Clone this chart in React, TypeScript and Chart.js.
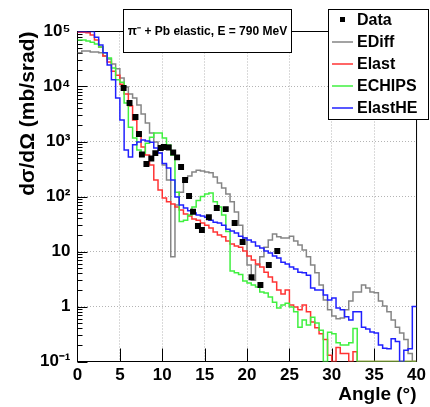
import { useEffect, useRef } from 'react';
import { Chart, registerables } from 'chart.js';

Chart.register(...registerables);

// ---- data (0.5 degree bins from 0 to 40 degrees) ----
const BIN_WIDTH = 0.5;

const EDIFF = [
  41000, 44000, 44000, 42500, 42500, 41000, 36000, 31600, 25700, 21000,
  14300, 9800, 7300, 6200, 4600, 3160, 2170, 1430, 980, 615,
  375, 200, 8, 70, 120, 210, 236, 280, 300, 290,
  280, 270, 226, 176, 143, 111, 80, 52, 30, 17.6,
  5.7, 3.0, 5.7, 8, 12, 16.2, 20.8, 18.5, 17.6, 17.6,
  19, 15.5, 13.1, 10.6, 8, 5.7, 4.1, 2.46, 1.31, 0.87,
  0.67, 0.6, 0.62, 0.87, 1.26, 1.84, 1.84, 2.46, 2.17, 1.84,
  1.77, 1.26, 1.02, 0.8, 0.57, 0.42, 0.33, 0.25, 0.14, 0.1,
];

const ELAST = [
  97000, 97000, 95000, 86000, 70000, 52000, 36000, 27900, 19000, 16000,
  11000, 7300, 4400, 2460, 1480, 795, 570, 375, 200, 131,
  94, 80, 73, 64.5, 57, 48, 44, 39, 37, 33,
  30, 26.7, 22.6, 20, 18.5, 15.5, 13.7, 12.6, 12, 10.2,
  8.3, 7, 5.9, 5.2, 4.2, 3.44, 2.8, 2.0, 1.69, 2.0,
  1.06, 0.98, 0.87, 1.06, 0.8, 0.52, 0.41, 0.32, 0.25, 0.13,
  0.1, 0.18, 0.14, 0.14, 0.1, 0.15, 0.1, 0.1, 0.1, 0.1,
  0.1, 0.1, 0.1, 0.1, 0.1, 0.1, 0.1, 0.1, 0.1, 0.1,
];

const ECHIPS = [
  70000, 70000, 67000, 64000, 59000, 52000, 41000, 33000, 21700, 13200,
  12000, 5000, 1820, 1160, 700, 620, 930, 1200, 1430, 1430,
  1160, 860, 570, 120, 35, 37, 46, 64.5, 85, 100,
  111, 116, 80, 64.5, 46, 23, 4.4, 4.1, 3.8, 2.9,
  2.67, 2.46, 2.26, 1.84, 1.76, 1.49, 1.2, 0.94, 1.06, 1.15,
  0.98, 0.8, 0.42, 0.57, 0.46, 0.64, 0.5, 0.37, 0.1, 0.34,
  0.32, 0.22, 0.2, 0.2, 0.22, 0.4, 0.1, 0.1, 0.1, 0.1,
  0.1, 0.1, 0.1, 0.1, 0.1, 0.1, 0.1, 0.1, 0.1, 0.1,
];

const ELASTHE = [
  100000, 100000, 100000, 100000, 79000, 57000, 41000, 24500, 13200, 6200,
  2450, 700, 525, 870, 980, 1070, 1020, 970, 760, 615,
  400, 330, 200, 98, 70, 62, 55, 50, 46, 44,
  42, 37, 34, 33, 30, 25.5, 23.6, 21.7, 19, 17.6,
  16.2, 14.9, 12.6, 11.6, 10.2, 9.4, 8.3, 7.6, 6.4, 5.9,
  5.2, 4.8, 4.2, 4.1, 3.7, 2.17, 2.0, 2.0, 1.62, 1.31,
  1.43, 0.94, 0.87, 0.65, 0.57, 0.8, 0.8, 0.42, 0.39, 0.345,
  0.33, 0.2, 0.175, 0.17, 0.26, 0.23, 0.1, 0.16, 0.17, 1.0,
];

const DATA_ANGLE = [
  5.44, 6.14, 6.84, 7.25, 7.6, 8.13, 8.71, 9.18, 9.82, 10.18,
  10.76, 11.29, 11.75, 12.22, 12.69, 13.16, 13.63, 14.21, 14.68, 15.5,
  16.43, 17.49, 18.54, 19.48, 20.53, 21.58, 22.57, 23.57,
];
const DATA_VALUE = [
  9400, 5000, 2790, 1370, 580, 390, 490, 615, 760, 795,
  780, 630, 515, 345, 200, 102, 53, 29, 24.6, 42,
  62, 59, 33, 14.9, 3.4, 2.46, 5.7, 10.2,
];

const Y_TICK_VALUES = [0.1, 1, 10, 100, 1000, 10000, 100000];
const Y_TICK_LABELS = ['10⁻¹', '1', '10', '10²', '10³', '10⁴', '10⁵'];
const X_MIN = 0;
const X_MAX = 40;
const X_TICK_STEP = 5;

const TITLE = 'π⁻ + Pb elastic, E = 790 MeV';
const Y_TITLE = 'dσ/dΩ (mb/srad)';
const X_TITLE = 'Angle (°)';

const FONT = "'Liberation Sans', Arial, Helvetica, sans-serif";

function histPoints(vals: number[]) {
  const pts = vals.map((v, i) => ({ x: i * BIN_WIDTH, y: v }));
  pts.push({ x: vals.length * BIN_WIDTH, y: vals[vals.length - 1] });
  return pts;
}

const rootDecor = {
  id: 'rootDecor',
  beforeDatasetsDraw(chart: any) {
    const { ctx, chartArea: a, scales } = chart;
    const ys = scales.y;
    const xs = scales.x;
    ctx.save();
    ctx.strokeStyle = '#000';
    ctx.lineWidth = 1;
    ctx.strokeRect(a.left, a.top, a.right - a.left, a.bottom - a.top);
    ctx.beginPath();
    for (let d = -1; d <= 4; d++) {
      for (let m = 1; m <= 9; m++) {
        const v = m * Math.pow(10, d);
        const py = Math.round(ys.getPixelForValue(v)) + 0.5;
        const len = m === 1 ? 10 : 5;
        ctx.moveTo(a.left, py);
        ctx.lineTo(a.left + len, py);
      }
    }
    for (let v = X_MIN + X_TICK_STEP; v < X_MAX; v += X_TICK_STEP) {
      const px = Math.round(xs.getPixelForValue(v)) + 0.5;
      ctx.moveTo(px, a.bottom);
      ctx.lineTo(px, a.bottom - 13);
    }
    ctx.stroke();
    ctx.restore();
  },
  afterDraw(chart: any) {
    const { ctx } = chart;
    ctx.save();
    ctx.fillStyle = '#fff';
    ctx.strokeStyle = '#000';
    ctx.lineWidth = 1;
    ctx.fillRect(123.5, 9.5, 168, 43);
    ctx.strokeRect(123.5, 9.5, 168, 43);
    ctx.fillStyle = '#000';
    ctx.font = `bold 12px ${FONT}`;
    ctx.textAlign = 'center';
    ctx.textBaseline = 'middle';
    ctx.fillText(TITLE, 207.5, 31.5);

    ctx.fillStyle = '#fff';
    ctx.fillRect(328.5, 9.5, 100, 110);
    ctx.strokeRect(328.5, 9.5, 100, 110);
    ctx.font = `bold 16px ${FONT}`;
    ctx.textAlign = 'left';
    ctx.textBaseline = 'middle';
    chart.data.datasets.forEach((ds: any, i: number) => {
      const cy = 19.5 + i * 22;
      if (ds.showLine === false) {
        ctx.fillStyle = ds.backgroundColor;
        ctx.fillRect(340, cy - 2.5, 5, 5);
      } else {
        ctx.strokeStyle = ds.borderColor;
        ctx.lineWidth = 1.5;
        ctx.beginPath();
        ctx.moveTo(332, cy + 0.5);
        ctx.lineTo(353, cy + 0.5);
        ctx.stroke();
      }
      ctx.fillStyle = '#000';
      ctx.fillText(ds.label, 357, cy + 1);
    });
    ctx.restore();
  },
};

export default function App() {
  const ref = useRef<HTMLCanvasElement | null>(null);

  useEffect(() => {
    if (!ref.current) return;
    const lineDs = (label: string, vals: number[], color: string, order: number) => ({
      type: 'line' as const,
      label,
      data: histPoints(vals),
      borderColor: color,
      backgroundColor: color,
      borderWidth: 1.5,
      pointRadius: 0,
      stepped: 'before' as const,
      fill: false,
      order,
    });
    const chart = new Chart(ref.current, {
      type: 'line',
      data: {
        datasets: [
          {
            type: 'scatter' as any,
            label: 'Data',
            data: DATA_ANGLE.map((a, i) => ({ x: a, y: DATA_VALUE[i] })),
            showLine: false,
            pointStyle: 'rect',
            pointRadius: 4.2,
            pointBorderWidth: 0,
            backgroundColor: '#000',
            borderColor: '#000',
            order: 0,
          } as any,
          lineDs('EDiff', EDIFF, '#858585', 4),
          lineDs('Elast', ELAST, '#ff3333', 3),
          lineDs('ECHIPS', ECHIPS, '#40f040', 2),
          lineDs('ElastHE', ELASTHE, '#2020ff', 1),
        ],
      },
      options: {
        responsive: false,
        animation: false,
        devicePixelRatio: 1,
        layout: { padding: { top: 31.5, right: 10.5, left: 0, bottom: 0 } },
        plugins: {
          legend: { display: false },
          tooltip: { enabled: false },
          title: { display: false },
        },
        scales: {
          x: {
            type: 'linear',
            min: X_MIN,
            max: X_MAX,
            afterFit: (s: any) => {
              s.height = 45.5;
            },
            ticks: {
              stepSize: X_TICK_STEP,
              padding: 4,
              color: '#000',
              font: { family: FONT, size: 17, weight: 'bold' },
              maxRotation: 0,
            },
            grid: { color: '#b4b4b4', lineWidth: 1, drawTicks: false },
            border: { display: false, dash: [1, 2] },
            title: {
              display: true,
              text: X_TITLE,
              align: 'end',
              color: '#000',
              font: { family: FONT, size: 19, weight: 'bold' },
              padding: { top: 0, bottom: 1 },
            },
          },
          y: {
            type: 'logarithmic',
            min: 0.1,
            max: 100000,
            afterFit: (s: any) => {
              s.width = 77.5;
            },
            afterBuildTicks: (s: any) => {
              s.ticks = Y_TICK_VALUES.map((v) => ({ value: v, major: true }));
            },
            ticks: {
              padding: 7,
              color: '#000',
              font: { family: FONT, size: 17, weight: 'bold' },
              callback: (v: any) => {
                const idx = Y_TICK_VALUES.findIndex((t) => Math.abs(Math.log10(t) - Math.log10(Number(v))) < 1e-6);
                return idx >= 0 ? Y_TICK_LABELS[idx] : '';
              },
            },
            grid: { color: '#b4b4b4', lineWidth: 1, drawTicks: false },
            border: { display: false, dash: [1, 2] },
            title: {
              display: true,
              text: Y_TITLE,
              align: 'end',
              color: '#000',
              font: { family: FONT, size: 21, weight: 'bold' },
              padding: { top: 16, bottom: 0 },
            },
          },
        },
      },
      plugins: [rootDecor],
    });
    return () => chart.destroy();
  }, []);

  return (
    <div style={{ position: 'fixed', left: 0, top: 0, width: 430, height: 407, background: '#fff' }}>
      <canvas ref={ref} width={430} height={407} style={{ width: 430, height: 407 }} />
    </div>
  );
}
